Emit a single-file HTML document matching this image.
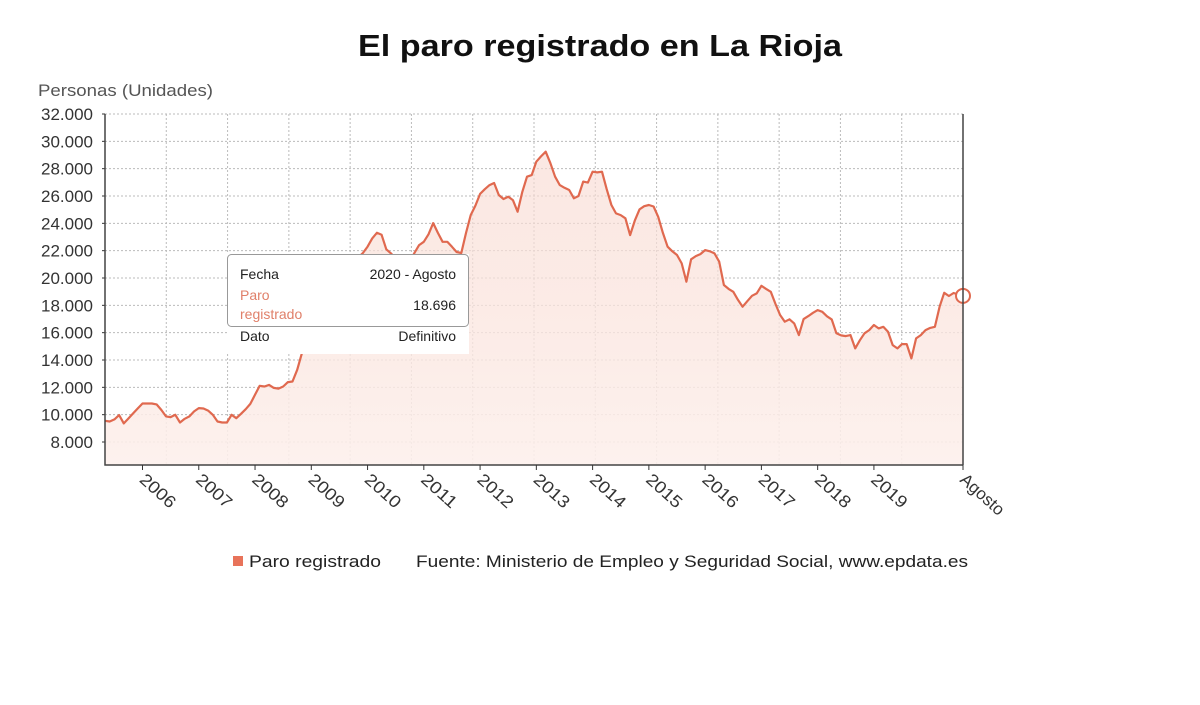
<!DOCTYPE html>
<html><head><meta charset="utf-8"><style>
html,body{margin:0;padding:0;background:#fff;}
svg{display:block;font-family:"Liberation Sans",sans-serif;}
</style></head><body>
<svg id="chart" width="1200" height="705" viewBox="0 0 1200 705">
<defs><linearGradient id="fillg" x1="0" y1="0" x2="0" y2="1"><stop offset="0" stop-color="#f8d9d0" stop-opacity="0.6"/><stop offset="1" stop-color="#fdf0ec" stop-opacity="0.9"/></linearGradient></defs>
<text x="358" y="56" font-size="31" font-weight="bold" fill="#111" textLength="484" lengthAdjust="spacingAndGlyphs">El paro registrado en La Rioja</text>
<text x="38" y="96" font-size="17" fill="#555" textLength="175" lengthAdjust="spacingAndGlyphs">Personas (Unidades)</text>
<g id="grid"></g>
<g id="plot"></g>
<g id="axes"></g>
<g>
<rect x="227" y="254" width="242" height="100" fill="#fff"/>
<rect x="227.5" y="254.5" width="241" height="72" rx="4" fill="none" stroke="#999" stroke-width="1"/>
<text x="240" y="279" font-size="14" fill="#222">Fecha</text>
<text x="456" y="279" font-size="14" fill="#222" text-anchor="end">2020 - Agosto</text>
<text x="240" y="300" font-size="14" fill="#e0806a">Paro</text>
<text x="240" y="319" font-size="14" fill="#e0806a">registrado</text>
<text x="456" y="310" font-size="14" fill="#222" text-anchor="end">18.696</text>
<text x="240" y="341" font-size="14" fill="#222">Dato</text>
<text x="456" y="341" font-size="14" fill="#222" text-anchor="end">Definitivo</text>
</g>
<g>
<rect x="233" y="556" width="10" height="10" fill="#e8735a"/>
<text x="249" y="567" font-size="17" fill="#222" textLength="132" lengthAdjust="spacingAndGlyphs">Paro registrado</text>
<text x="416" y="567" font-size="17" fill="#222" textLength="552" lengthAdjust="spacingAndGlyphs">Fuente: Ministerio de Empleo y Seguridad Social, www.epdata.es</text>
</g>
</svg>
<script>
const values=[9550,9500,9650,9970,9360,9720,10090,10460,10820,10820,10820,10750,10350,9870,9820,9990,9430,9700,9870,10240,10480,10450,10300,9990,9500,9430,9430,9990,9740,10060,10400,10790,11450,12110,12060,12180,11960,11910,12060,12380,12430,13280,14500,16300,17900,19300,20300,19900,19500,19300,19200,19000,20000,21000,21500,21830,22300,22900,23310,23160,22100,21800,21400,21000,20580,21200,21830,22410,22650,23200,24020,23300,22650,22650,22280,21900,21830,23290,24600,25300,26150,26500,26800,26950,26070,25780,25950,25700,24850,26300,27410,27530,28510,28900,29240,28400,27410,26800,26600,26440,25830,26000,27050,26980,27780,27730,27780,26500,25340,24730,24600,24370,23140,24200,25020,25250,25340,25230,24480,23300,22290,21950,21680,21070,19730,21370,21600,21750,22040,21950,21800,21190,19490,19200,18990,18400,17900,18300,18700,18870,19430,19200,18990,18100,17290,16800,16980,16680,15820,16990,17210,17450,17650,17530,17200,16970,15950,15800,15750,15820,14850,15450,15950,16190,16560,16310,16430,16070,15090,14850,15160,15160,14120,15580,15820,16190,16350,16430,17900,18920,18680,18900,18800,18696];
const startYear=2005, startMonth=5; // May 2005
const yTicks=[8000,10000,12000,14000,16000,18000,20000,22000,24000,26000,28000,30000,32000];
const yTickLabels=["8.000","10.000","12.000","14.000","16.000","18.000","20.000","22.000","24.000","26.000","28.000","30.000","32.000"];
const xTickYears=[2006,2007,2008,2009,2010,2011,2012,2013,2014,2015,2016,2017,2018,2019];
const lastLabel="Agosto";

const NS="http://www.w3.org/2000/svg";
const X0=105,X1=963,Y0=465,Y1=114,YMIN=6317,YMAX=32000;
const n=values.length;
function xs(i){return X0+(X1-X0)*i/(n-1);}
function ys(v){return Y0-(v-YMIN)/(YMAX-YMIN)*(Y0-Y1);}
function mk(tag,attrs,parent){const e=document.createElementNS(NS,tag);for(const k in attrs)e.setAttribute(k,attrs[k]);parent.appendChild(e);return e;}
const grid=document.getElementById('grid'),plot=document.getElementById('plot'),axes=document.getElementById('axes');
yTicks.forEach((v,k)=>{
 const l=mk('line',{x1:X0,x2:X1,y1:ys(v),y2:ys(v),stroke:'#bbb','stroke-dasharray':'2,2'},grid);
 
 
 const t=mk('text',{x:93,y:ys(v)+6,'text-anchor':'end','font-size':17,fill:'#333'},axes);
 t.textContent=yTickLabels[k];
 
 
 const tk=mk('line',{x1:X0-3,x2:X0,y1:ys(v),y2:ys(v),stroke:'#333'},axes);
 
 
});
for(let k=1;k<14;k++){
 const gx=X0+(X1-X0)*k/14;
 const l=mk('line',{x1:gx,x2:gx,y1:Y1,y2:Y0,stroke:'#bbb','stroke-dasharray':'2,2'},grid);
 
 
}
let d='';values.forEach((v,i)=>{d+=(i?'L':'M')+xs(i).toFixed(1)+','+ys(v).toFixed(1);});
const area=mk('path',{d:d+'L'+xs(n-1)+','+Y0+'L'+X0+','+Y0+'Z',fill:'url(#fillg)'},plot);


const line=mk('path',{d:d,fill:'none',stroke:'#e0694f','stroke-width':2.2,'stroke-linejoin':'round'},plot);


const dot=mk('circle',{cx:xs(n-1),cy:ys(values[n-1]),r:7,fill:'#fff',stroke:'#e0694f','stroke-width':2},plot);


const ax=mk('path',{d:'M'+X0+','+Y1+'L'+X0+','+Y0+'L'+X1+','+Y0+'M'+X1+','+Y1+'L'+X1+','+Y0,fill:'none',stroke:'#444','stroke-width':1.5},axes);


function idxOf(y,m){return (y-startYear)*12+(m-startMonth);}
const xl=xTickYears.map(y=>({i:idxOf(y,1),t:String(y)}));
xl.push({i:n-1,t:lastLabel});
xl.forEach(o=>{
 const x=xs(o.i);
 const tk=mk('line',{x1:x,x2:x,y1:Y0,y2:Y0+5,stroke:'#333'},axes);
 
 
 const t=mk('text',{x:0,y:0,'font-size':17,fill:'#333',transform:'translate('+(x-4)+','+(Y0+16)+') rotate(42)'},axes);
 if(o.t.length===4){t.setAttribute('textLength','42');t.setAttribute('lengthAdjust','spacingAndGlyphs');}
 t.textContent=o.t;
 
 
});
</script>
</body></html>
